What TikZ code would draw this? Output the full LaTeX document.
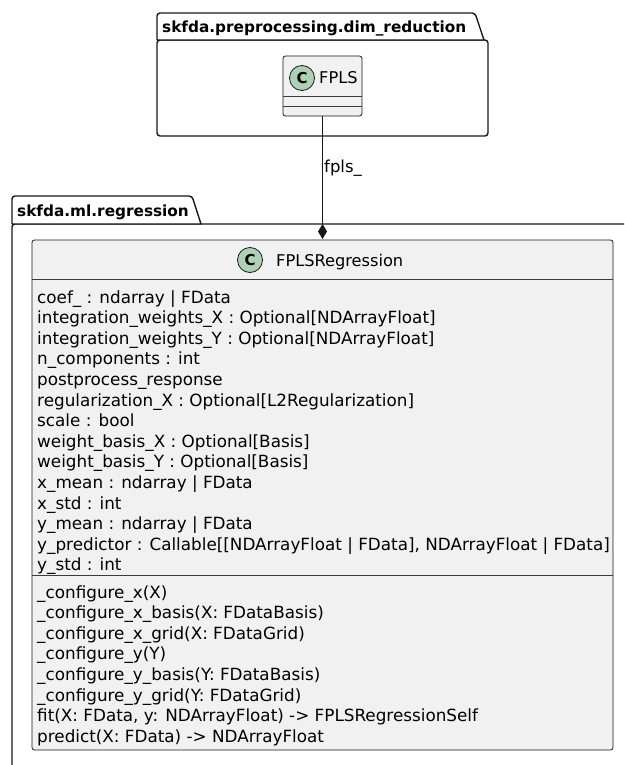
\documentclass[tikz,border=0pt]{standalone}
\usepackage{fontspec}
\setmainfont{DejaVu Sans}
\usetikzlibrary{arrows.meta}
\definecolor{lineC}{HTML}{181818}
\definecolor{classFill}{HTML}{F1F1F1}
\definecolor{circFill}{HTML}{ADD1B2}
\tikzset{
  pkgline/.style={draw=lineC, line width=1.4pt, fill=white, line join=round},
  classbox/.style={draw=lineC, line width=0.8pt, fill=classFill, rounded corners=2.5pt},
  sepline/.style={draw=lineC!85, line width=0.8pt},
  member/.style={anchor=base west, inner sep=0pt, font=\fontsize{16.8}{19}\selectfont, text=black},
  cname/.style={anchor=base west, inner sep=0pt, font=\fontsize{16.2}{19}\selectfont, text=black},
  pkgtitle/.style={anchor=base west, inner sep=0pt, font=\fontsize{15.3}{18}\selectfont\bfseries, text=black},
  cmark/.style={circle, draw=lineC, line width=0.8pt, fill=circFill, minimum size=25pt, inner sep=0pt,
    font=\fontsize{15}{17}\selectfont\bfseries},
  conn/.style={draw=lineC, line width=0.9pt},
}
\begin{document}
\begin{tikzpicture}[x=1pt,y=-1pt]
\useasboundingbox (0,0) rectangle (624,765);
\clip (0,0) rectangle (624,765);

% package skfda.preprocessing.dim_reduction
\path[pkgline, rounded corners=3pt] (157,40) rectangle (488,136);
\path[pkgline] (157,40) [rounded corners=3pt] -- (157,13) -- (475,13) [sharp corners] -- (484,40) -- cycle;
\node[pkgtitle] (pkgA) at (162,32.5) {skfda.preprocessing.dim\_reduction};

% class FPLS
\path[classbox] (283,56) rectangle (362,116);
\coordinate (fplsBottom) at (322.5,116);
\node[cmark] (cA) at (302,78) {C};
\node[cname] (fplsName) at (319,84) {FPLS};
\draw[sepline] (283,96) -- (362,96);
\draw[sepline] (283,106) -- (362,106);

% package skfda.ml.regression (runs past the right and bottom edges)
\path[pkgline, rounded corners=3pt] (12,224) rectangle (700,840);
\path[pkgline] (12,224) [rounded corners=3pt] -- (12,196) -- (192,196) [sharp corners] -- (201,224) -- cycle;
\node[pkgtitle] (pkgB) at (17,216.5) {skfda.ml.regression};

% class FPLSRegression
\path[classbox] (32,240) rectangle (613,750);
\coordinate (regTop) at (322.5,224);
\node[cmark] (cB) at (250,260) {C};
\node[cname] (regName) at (276,266) {FPLSRegression};
\draw[sepline] (32,279.5) -- (613,279.5);
\draw[sepline] (32,575) -- (613,575);

\foreach \t [count=\i from 0] in {
  coef\_ : ndarray | FData,
  integration\_weights\_X : Optional[NDArrayFloat],
  integration\_weights\_Y : Optional[NDArrayFloat],
  n\_components : int,
  postprocess\_response,
  regularization\_X : Optional[L2Regularization],
  scale : bool,
  weight\_basis\_X : Optional[Basis],
  weight\_basis\_Y : Optional[Basis],
  x\_mean : ndarray | FData,
  x\_std : int,
  y\_mean : ndarray | FData,
  {y\_predictor : Callable[[NDArrayFloat | FData], NDArrayFloat | FData]},
  y\_std : int}
  \node[member] (attr\i) at (37,303+20.6*\i) {\t};

\foreach \t [count=\i from 0] in {
  \_configure\_x(X),
  \_configure\_x\_basis(X: FDataBasis),
  \_configure\_x\_grid(X: FDataGrid),
  \_configure\_y(Y),
  \_configure\_y\_basis(Y: FDataBasis),
  \_configure\_y\_grid(Y: FDataGrid),
  {fit(X: FData, y: NDArrayFloat) -> FPLSRegressionSelf},
  {predict(X: FData) -> NDArrayFloat}}
  \node[member] (meth\i) at (37,598+20.6*\i) {\t};

% composition fpls_
\draw[conn] (fplsBottom) -- (regTop);
\path[fill=lineC] (regTop) -- ++(4.5,7.5) -- ++(-4.5,7.5) -- ++(-4.5,-7.5) -- cycle;
\node[anchor=west, inner sep=0pt, font=\fontsize{16.5}{19}\selectfont] (lbl) at (324,168) {fpls\_};
\end{tikzpicture}
\end{document}
